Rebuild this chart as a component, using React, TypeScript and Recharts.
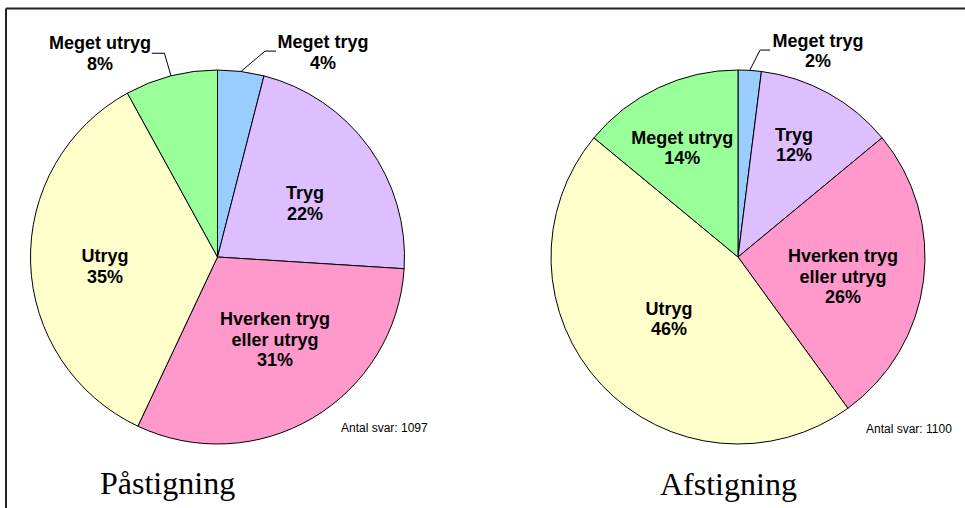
import React from "react";
import { PieChart, Pie, Cell } from "recharts";

// ---------- data ----------
const categories = ["Meget tryg", "Tryg", "Hverken tryg eller utryg", "Utryg", "Meget utryg"];
const categoryLines = [["Meget tryg"], ["Tryg"], ["Hverken tryg", "eller utryg"], ["Utryg"], ["Meget utryg"]];
const paastigningValues = [4, 22, 31, 35, 8];
const afstigningValues = [2, 12, 26, 46, 14];
const chartTitles = ["Påstigning", "Afstigning"];
const answerCounts = [1097, 1100];
const sliceColors = ["#99CCFF", "#DDBFFF", "#FF99CC", "#FFFFCC", "#99FF99"];

const leftData = categories.map((name, i) => ({ name, value: paastigningValues[i] }));
const rightData = categories.map((name, i) => ({ name, value: afstigningValues[i] }));

// ---------- layout ----------
const W = 965;
const H = 508;
const R = 187;
const LINE_H = 20.5;
const RAD = Math.PI / 180;
const LABEL_FONT = "'Liberation Sans', Arial, Helvetica, sans-serif";

type Lay = { out?: boolean; f?: number; a?: number; ef?: number; ea?: number; len?: number; tx?: number; ty?: number };

const leftLayout: Lay[] = [
  { out: true, ef: 1.13, ea: 5.8, len: 11, tx: 58, ty: 1 },
  { f: 0.55, a: 4.3 },
  { f: 0.536, a: -4.4 },
  { f: 0.604, a: -2.8 },
  { out: true, ef: 1.126, ea: -0.2, len: -12.6, tx: -64.3, ty: 0 },
];
const rightLayout: Lay[] = [
  { out: true, ef: 1.113, ea: 2.5, len: 10, tx: 58, ty: 0.5 },
  { f: 0.672, a: -2.3 },
  { f: 0.571, a: 3.1 },
  { f: 0.494, a: 1.5 },
  { f: 0.656, a: -1.8 },
];

function makeLabel(layout: Lay[]) {
  return (props: any) => {
    const { cx, cy, midAngle, outerRadius, index, value } = props;
    const L = layout[index];
    const cw = 90 - midAngle;
    const pol = (r: number, a: number) => [cx + r * Math.sin(a * RAD), cy - r * Math.cos(a * RAD)];
    const lines = [...categoryLines[index], `${value}%`];
    let center: number[];
    let leader: any = null;
    if (L.out) {
      const [ex, ey] = pol(outerRadius, cw);
      const [bx, by] = pol(outerRadius * (L.ef as number), cw + (L.ea as number));
      const endX = bx + (L.len as number);
      leader = (
        <polyline points={`${ex},${ey} ${bx},${by} ${endX},${by}`} fill="none" stroke="#000" strokeWidth={1} />
      );
      center = [bx + (L.tx as number), by + (L.ty as number)];
    } else {
      center = pol(outerRadius * (L.f as number), cw + (L.a as number));
    }
    const n = lines.length;
    return (
      <g key={`lbl-${index}`}>
        {leader}
        <text
          x={center[0]}
          y={center[1]}
          textAnchor="middle"
          fontFamily={LABEL_FONT}
          fontWeight="bold"
          fontSize={18}
          fill="#000"
        >
          {lines.map((t, i) => (
            <tspan key={i} x={center[0]} y={center[1] + 6.5 + (i - (n - 1) / 2) * LINE_H}>
              {t}
            </tspan>
          ))}
        </text>
      </g>
    );
  };
}

export default function App() {
  return (
    <div style={{ position: "absolute", left: 0, top: 0, width: W, height: H, background: "#fff" }}>
      <PieChart width={W} height={H} margin={{ top: 0, right: 0, bottom: 0, left: 0 }}>
        <Pie
          data={leftData}
          dataKey="value"
          nameKey="name"
          cx={217.5}
          cy={257}
          outerRadius={R}
          innerRadius={0}
          startAngle={90}
          endAngle={-270}
          stroke="#000"
          strokeWidth={1}
          isAnimationActive={false}
          labelLine={false}
          label={makeLabel(leftLayout)}
        >
          {leftData.map((d, i) => (
            <Cell key={d.name} fill={sliceColors[i]} stroke="#000" strokeWidth={1} />
          ))}
        </Pie>
        <Pie
          data={rightData}
          dataKey="value"
          nameKey="name"
          cx={738}
          cy={257}
          outerRadius={R}
          innerRadius={0}
          startAngle={90}
          endAngle={-270}
          stroke="#000"
          strokeWidth={1}
          isAnimationActive={false}
          labelLine={false}
          label={makeLabel(rightLayout)}
        >
          {rightData.map((d, i) => (
            <Cell key={d.name} fill={sliceColors[i]} stroke="#000" strokeWidth={1} />
          ))}
        </Pie>
      </PieChart>
      <svg
        width={W}
        height={H}
        style={{ position: "absolute", left: 0, top: 0, pointerEvents: "none" }}
      >
        <line x1={6} y1={8.5} x2={W} y2={8.5} stroke="#222" strokeWidth={2} />
        <line x1={6} y1={8.5} x2={6} y2={H} stroke="#222" strokeWidth={2} />
        <text x={341} y={432} fontFamily={LABEL_FONT} fontSize={12} fill="#000">
          {`Antal svar: ${answerCounts[0]}`}
        </text>
        <text x={866} y={433} fontFamily={LABEL_FONT} fontSize={12} fill="#000">
          {`Antal svar: ${answerCounts[1]}`}
        </text>
        <text x={100} y={494} fontFamily="'Liberation Serif', 'Times New Roman', serif" fontSize={32} fill="#000">
          {chartTitles[0]}
        </text>
        <text x={660} y={495} fontFamily="'Liberation Serif', 'Times New Roman', serif" fontSize={32} fill="#000">
          {chartTitles[1]}
        </text>
      </svg>
    </div>
  );
}
